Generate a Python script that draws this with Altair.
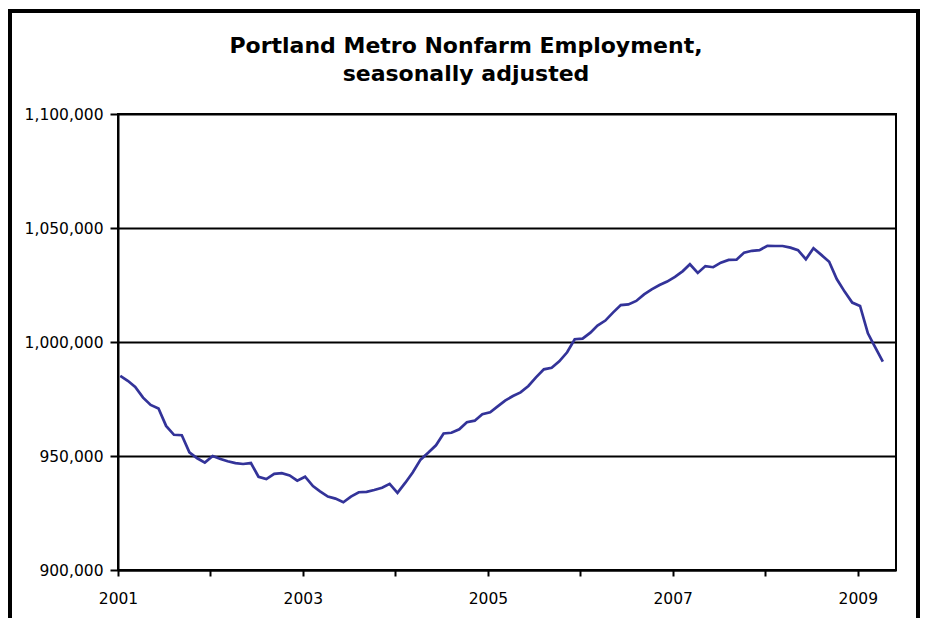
import altair as alt
import pandas as pd

# Monthly nonfarm employment, seasonally adjusted
emp_2001 = [985100, 982900, 980300, 975600, 972400, 970800, 963200, 959300, 959100, 951600, 949000, 947100]
emp_2002 = [950000, 948700, 947700, 946900, 946500, 946900, 940900, 939900, 942200, 942500, 941500, 939200]
emp_2003 = [940900, 936800, 934500, 932200, 931300, 929700, 932200, 934100, 934300, 935100, 936100, 937800]
emp_2004 = [933800, 938300, 942800, 948400, 951400, 954700, 959900, 960200, 961700, 964800, 965500, 968300]
emp_2005 = [969200, 971900, 974300, 976300, 977900, 980700, 984500, 988000, 988700, 991500, 995500, 1001200]
emp_2006 = [1001500, 1004100, 1007200, 1009400, 1012900, 1016200, 1016500, 1018000, 1020900, 1023100, 1025000, 1026500]
emp_2007 = [1028600, 1031100, 1034100, 1030300, 1033300, 1032800, 1034800, 1036000, 1036100, 1039200, 1040000, 1040300]
emp_2008 = [1042200, 1042100, 1042100, 1041400, 1040300, 1036300, 1041100, 1038200, 1035200, 1027600, 1022100, 1017300]
emp_2009 = [1015800, 1003800, 997900, 991400]

year_ticks = [2001, 2002, 2003, 2004, 2005, 2006, 2007, 2008, 2009]
y_ticks = [900000, 950000, 1000000, 1050000, 1100000]
title_line1 = "Portland Metro Nonfarm Employment,"
title_line2 = "seasonally adjusted"

values = emp_2001 + emp_2002 + emp_2003 + emp_2004 + emp_2005 + emp_2006 + emp_2007 + emp_2008 + emp_2009
months = pd.date_range("2001-01-01", periods=len(values), freq="MS") + pd.Timedelta(days=9)
df = pd.DataFrame({"date": months.strftime("%Y-%m-%d"), "jobs": values})

FONT = "DejaVu Sans"

x_enc = alt.X(
    "date:T",
    scale=alt.Scale(
        type="utc",
        domain=[alt.DateTime(year=2001, month=1, date=1, utc=True),
                alt.DateTime(year=2009, month=6, date=1, utc=True)],
        nice=False,
    ),
    axis=alt.Axis(
        values=[alt.DateTime(year=y, month=1, date=1, utc=True) for y in year_ticks],
        labelExpr="utcyear(datum.value) % 2 == 1 ? utcFormat(datum.value, '%Y') : ''",
        title=None,
        grid=False,
        tickSize=6,
        labelPadding=15,
        labelFlush=False,
        labelOverlap=False,
    ),
)

y_enc = alt.Y(
    "jobs:Q",
    scale=alt.Scale(domain=[900000, 1100000], nice=False, zero=False),
    axis=alt.Axis(
        values=y_ticks,
        format=",d",
        title=None,
        grid=True,
        tickSize=8,
        labelPadding=7,
    ),
)

line = alt.Chart(df).mark_line(color="#333399", strokeWidth=2.7).encode(x=x_enc, y=y_enc)

frame = alt.Chart(pd.DataFrame({"k": [0]})).mark_rect(
    fillOpacity=0, stroke="black", strokeWidth=4
).encode(
    x=alt.value(-108), x2=alt.value(800), y=alt.value(-103), y2=alt.value(560)
)

title_df = pd.DataFrame({"t1": [title_line1], "t2": [title_line2]})
title1 = alt.Chart(title_df).mark_text(
    font=FONT, fontSize=22, fontWeight="bold", color="black", align="center", baseline="middle"
).encode(text="t1:N", x=alt.value(348), y=alt.value(-68))
title2 = alt.Chart(title_df).mark_text(
    font=FONT, fontSize=22, fontWeight="bold", color="black", align="center", baseline="middle"
).encode(text="t2:N", x=alt.value(348), y=alt.value(-40))

chart = alt.layer(line, frame, title1, title2).properties(
    width=778,
    height=456,
    padding={"left": 110, "top": 106, "right": 24, "bottom": 48},
    autosize=alt.AutoSizeParams(type="none"),
).configure_view(
    stroke="black", strokeWidth=2
).configure_axis(
    domainColor="black", domainWidth=2,
    tickColor="black", tickWidth=2,
    gridColor="black", gridWidth=2, gridOpacity=1,
    labelColor="black", labelFont=FONT, labelFontSize=15.5,
)

chart.save("out.html", embed_options={"renderer": "svg", "actions": False})
